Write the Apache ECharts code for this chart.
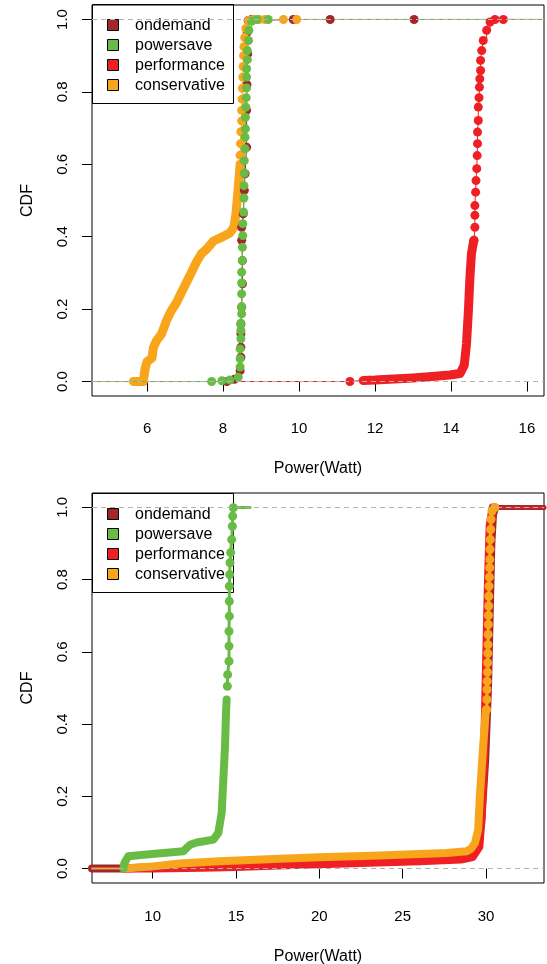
<!DOCTYPE html>
<html lang="en">
<head>
<meta charset="UTF-8">
<title>CDF of power by governor</title>
<script src="https://cdn.jsdelivr.net/npm/echarts@6/dist/echarts.min.js"></script>
<style>
  html, body { margin: 0; padding: 0; background: #fff; }
  #chart { width: 547px; height: 964px; }
</style>
</head>
<body>
<div id="chart"></div>
<script>
// legend order
const governors = ['ondemand', 'powersave', 'performance', 'conservative'];
const govColors = ['#A3262A', '#68BC45', '#EE2024', '#F9A51B'];

// axes
const topXTicks = [6, 8, 10, 12, 14, 16];
const bottomXTicks = [10, 15, 20, 25, 30];
const yTicks = [0, 0.2, 0.4, 0.6, 0.8, 1.0];
const topXRange = [4.55, 16.45];
const bottomXRange = [6.36, 33.48];
const yRange = [-0.04, 1.04];

// top panel, [power, cdf]. "band" = samples so dense they merge, "dots" = separate samples
const topOndemandDots = [[8.10,0.000],[8.30,0.006],[8.45,0.030],[8.47,0.067],[8.47,0.095],[8.47,0.132],[8.47,0.159],[8.49,0.205],[8.51,0.270],[8.51,0.334],[8.49,0.390],[8.49,0.426],[8.53,0.463],[8.56,0.528],[8.58,0.574],[8.62,0.647],[8.62,0.749],[8.63,0.820],[8.65,0.905],[8.64,0.965],[8.66,0.997],[8.75,1.000],[9.85,1.000],[10.82,1.000],[13.03,1.000]];
const topPowersaveDots = [[7.70,0.000],[7.97,0.002],[8.18,0.004],[8.40,0.012],[8.45,0.040],[8.45,0.063],[8.45,0.090],[8.47,0.118],[8.47,0.141],[8.47,0.161],[8.49,0.187],[8.49,0.207],[8.49,0.242],[8.49,0.272],[8.49,0.302],[8.51,0.334],[8.51,0.371],[8.52,0.403],[8.52,0.436],[8.54,0.468],[8.55,0.507],[8.55,0.541],[8.56,0.575],[8.56,0.610],[8.58,0.643],[8.58,0.675],[8.59,0.698],[8.59,0.730],[8.60,0.758],[8.61,0.784],[8.62,0.811],[8.62,0.841],[8.62,0.864],[8.64,0.889],[8.64,0.914],[8.67,0.942],[8.68,0.970],[8.75,0.995],[8.89,1.000],[9.19,1.000]];
const topPerformanceFirst = [[11.34,0.000]];
const topPerformanceBand = [[11.69,0.003],[12.00,0.004],[12.50,0.007],[13.00,0.010],[13.50,0.014],[13.97,0.018],[14.24,0.022],[14.35,0.045],[14.41,0.104],[14.46,0.196],[14.50,0.288],[14.54,0.353],[14.60,0.390]];
const topPerformanceDots = [[14.61,0.390],[14.63,0.426],[14.63,0.459],[14.63,0.486],[14.65,0.523],[14.66,0.555],[14.68,0.588],[14.69,0.624],[14.70,0.657],[14.70,0.689],[14.72,0.721],[14.72,0.758],[14.74,0.784],[14.75,0.813],[14.76,0.836],[14.78,0.859],[14.78,0.887],[14.81,0.914],[14.85,0.942],[14.94,0.970],[15.03,0.993],[15.16,1.000],[15.38,1.000]];
const topConservativeBand = [[5.64,0.000],[5.90,0.000],[5.95,0.036],[6.00,0.055],[6.13,0.065],[6.17,0.095],[6.25,0.113],[6.38,0.131],[6.51,0.168],[6.64,0.196],[6.78,0.219],[6.91,0.247],[7.04,0.274],[7.17,0.302],[7.30,0.330],[7.43,0.353],[7.57,0.366],[7.75,0.388],[7.97,0.399],[8.18,0.410],[8.29,0.427],[8.34,0.464],[8.38,0.509],[8.42,0.560],[8.45,0.600]];
const topConservativeDots = [[8.45,0.625],[8.46,0.657],[8.47,0.690],[8.49,0.720],[8.49,0.749],[8.50,0.780],[8.51,0.810],[8.52,0.841],[8.53,0.870],[8.54,0.900],[8.55,0.925],[8.57,0.950],[8.60,0.975],[8.67,0.997],[8.80,1.000],[8.95,1.000],[9.10,1.000],[9.59,1.000],[9.94,1.000]];

// bottom panel
const bottomOndemandBand = [[6.36,0.000],[8.50,0.000],[10.0,0.004],[15.0,0.012],[20.0,0.020],[25.0,0.028],[28.8,0.035],[29.4,0.050],[29.7,0.120],[29.95,0.300],[30.12,0.500],[30.22,0.700],[30.32,0.900],[30.42,0.980],[30.55,1.000]];
const bottomOndemandTail = [[30.55,1],[33.48,1]];
const bottomPerformanceBand = [[8.3,0.000],[10.0,0.000],[13.0,0.002],[15.0,0.004],[18.0,0.009],[20.0,0.012],[23.0,0.016],[26.0,0.020],[28.5,0.025],[29.2,0.032],[29.6,0.060],[29.75,0.150],[29.9,0.350],[30.02,0.600],[30.12,0.800],[30.22,0.950],[30.40,1.000]];
const bottomPerformanceTail = [[30.40,1],[33.48,1]];
const bottomConservativeBand = [[8.44,0.000],[9.0,0.003],[10.0,0.006],[11.64,0.014],[14.0,0.020],[17.64,0.027],[20.0,0.031],[23.64,0.036],[26.0,0.040],[27.64,0.043],[28.84,0.048],[29.1,0.055],[29.34,0.071],[29.53,0.108],[29.63,0.200],[29.83,0.339],[29.99,0.440]];
const bottomConservativeDots = [[30.04,0.440],[30.05,0.468],[30.06,0.496],[30.07,0.519],[30.09,0.544],[30.10,0.570],[30.11,0.596],[30.12,0.620],[30.13,0.648],[30.14,0.676],[30.15,0.701],[30.16,0.727],[30.17,0.754],[30.18,0.782],[30.20,0.807],[30.22,0.833],[30.23,0.856],[30.24,0.884],[30.26,0.911],[30.28,0.939],[30.30,0.967],[30.36,0.990],[30.53,1.000]];
const bottomConservativeTail = [[6.36,0],[8.44,0]];
const bottomPowersaveBand = [[8.24,0.000],[8.30,0.015],[8.54,0.034],[9.64,0.039],[11.84,0.048],[12.0,0.055],[12.24,0.066],[12.64,0.072],[13.64,0.080],[13.94,0.099],[14.14,0.154],[14.24,0.246],[14.34,0.338],[14.40,0.431],[14.44,0.468]];
const bottomPowersaveDots = [[14.48,0.505],[14.50,0.537],[14.58,0.574],[14.58,0.616],[14.58,0.657],[14.60,0.699],[14.60,0.740],[14.60,0.782],[14.62,0.814],[14.64,0.847],[14.68,0.875],[14.74,0.911],[14.78,0.948],[14.80,0.976],[14.84,0.999]];
const bottomPowersaveTail = [[14.84,1],[15.84,1]];

const FONT = 'Liberation Sans, Arial, Helvetica, sans-serif';
const col = name => govColors[governors.indexOf(name)];

function band(name, data, idx, width) {
    return {
        type: 'line', name: name, data: data, xAxisIndex: idx, yAxisIndex: idx,
        symbol: 'none', silent: true,
        lineStyle: { color: col(name), width: width, cap: 'round', join: 'round' }
    };
}

function dots(name, data, idx, lineWidth) {
    return {
        type: 'line', name: name, data: data, xAxisIndex: idx, yAxisIndex: idx,
        step: 'end', symbol: 'circle', symbolSize: 9, showSymbol: true, showAllSymbol: true,
        silent: true,
        itemStyle: { color: col(name), borderWidth: 0 },
        lineStyle: { color: col(name), width: lineWidth }
    };
}

function tail(name, data, idx, width) {
    return band(name, data, idx, width);
}

// thin y=0 / y=1 extensions of the top step functions
function topTails(name, first, last) {
    return [
        tail(name, [[topXRange[0], 0], [first[0], 0]], 0, 1),
        tail(name, [[last[0], 1], [topXRange[1], 1]], 0, 1)
    ];
}

function refLines(idx) {
    return {
        type: 'line', xAxisIndex: idx, yAxisIndex: idx, data: [], silent: true, z: 5,
        markLine: {
            silent: true, symbol: 'none', animation: false,
            label: { show: false },
            lineStyle: { color: '#b3b3b3', width: 1, type: [5, 4] },
            data: [{ yAxis: 0 }, { yAxis: 1 }]
        }
    };
}

const lastOf = a => a[a.length - 1];

const series = [].concat(
    // top, drawn ondemand, performance, conservative, powersave
    topTails('ondemand', topOndemandDots[0], lastOf(topOndemandDots)),
    [dots('ondemand', topOndemandDots, 0, 1)],
    topTails('performance', topPerformanceFirst[0], lastOf(topPerformanceDots)),
    [tail('performance', [topPerformanceFirst[0], topPerformanceBand[0]], 0, 1),
     dots('performance', topPerformanceFirst, 0, 1),
     band('performance', topPerformanceBand, 0, 9), dots('performance', topPerformanceDots, 0, 1)],
    topTails('conservative', topConservativeBand[0], lastOf(topConservativeDots)),
    [band('conservative', topConservativeBand, 0, 9), dots('conservative', topConservativeDots, 0, 1)],
    topTails('powersave', topPowersaveDots[0], lastOf(topPowersaveDots)),
    [dots('powersave', topPowersaveDots, 0, 1)],
    [refLines(0)],
    // bottom
    [band('ondemand', bottomOndemandBand, 1, 8), tail('ondemand', bottomOndemandTail, 1, 5)],
    [band('performance', bottomPerformanceBand, 1, 8), tail('performance', bottomPerformanceTail, 1, 2)],
    [tail('conservative', bottomConservativeTail, 1, 2), band('conservative', bottomConservativeBand, 1, 8),
     dots('conservative', bottomConservativeDots, 1, 3)],
    [band('powersave', bottomPowersaveBand, 1, 8), dots('powersave', bottomPowersaveDots, 1, 3),
     tail('powersave', bottomPowersaveTail, 1, 3)],
    [refLines(1)]
);

function xAxis(idx, range, ticks, gap, nameGap) {
    return {
        type: 'value', gridIndex: idx, min: range[0], max: range[1],
        axisLine: { show: false }, splitLine: { show: false },
        axisTick: { show: true, length: 10, customValues: ticks, lineStyle: { color: '#000' } },
        axisLabel: { customValues: ticks, margin: gap, fontSize: 15, color: '#000', fontFamily: FONT },
        name: 'Power(Watt)', nameLocation: 'middle', nameGap: nameGap,
        nameTextStyle: { fontSize: 16, color: '#000', fontFamily: FONT }
    };
}

function yAxis(idx) {
    return {
        type: 'value', gridIndex: idx, min: yRange[0], max: yRange[1],
        axisLine: { show: false }, splitLine: { show: false },
        axisTick: { show: true, length: 10, customValues: yTicks, lineStyle: { color: '#000' } },
        axisLabel: { customValues: yTicks, rotate: 90, margin: 22, fontSize: 15, color: '#000',
                     fontFamily: FONT, formatter: v => v.toFixed(1) },
        name: 'CDF', nameLocation: 'middle', nameRotate: 90, nameGap: 56,
        nameTextStyle: { fontSize: 16, color: '#000', fontFamily: FONT }
    };
}

// legend box drawn as in base R: no fill, squares with black border
function legend(top) {
    const items = [{
        type: 'rect', shape: { x: 92.5, y: top + 0.5, width: 141, height: 99 },
        style: { fill: 'none', stroke: '#000', lineWidth: 1 }
    }];
    governors.forEach((g, i) => {
        const cy = top + 21 + i * 20;
        items.push({
            type: 'rect', shape: { x: 107.5, y: cy - 5.5, width: 11, height: 11 },
            style: { fill: govColors[i], stroke: '#000', lineWidth: 1 }
        });
        items.push({
            type: 'text', x: 135, y: cy + 1,
            style: { text: g, fill: '#000', font: '16px ' + FONT, verticalAlign: 'middle' }
        });
    });
    return { type: 'group', z: 100, children: items };
}

const chart = echarts.init(document.getElementById('chart'));
chart.setOption({
    animation: false,
    backgroundColor: '#fff',
    grid: [
        { left: 92, top: 5, width: 452, height: 391, show: true, borderColor: '#000', borderWidth: 1,
          containLabel: false, outerBoundsMode: 'none' },
        { left: 92, top: 493, width: 452, height: 390, show: true, borderColor: '#000', borderWidth: 1,
          containLabel: false, outerBoundsMode: 'none' }
    ],
    xAxis: [xAxis(0, topXRange, topXTicks, 25, 65), xAxis(1, bottomXRange, bottomXTicks, 26, 66)],
    yAxis: [yAxis(0), yAxis(1)],
    series: series,
    graphic: [legend(4), legend(493)]
});
</script>
</body>
</html>
